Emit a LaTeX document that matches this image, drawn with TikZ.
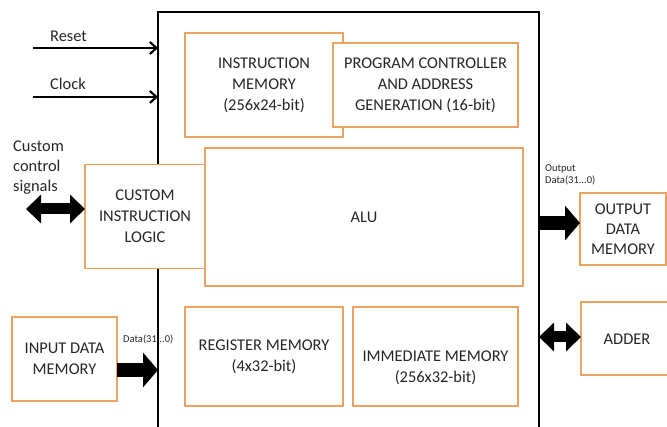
\documentclass[tikz,border=0pt]{standalone}
\usepackage{fontspec}
\setmainfont{Carlito}
\usetikzlibrary{arrows.meta}
\definecolor{boxorange}{RGB}{238,162,98}
\definecolor{txt}{RGB}{38,38,38}
\tikzset{
  unit/.style={draw=boxorange, line width=1.7pt, fill=white, inner sep=0pt, outer sep=0pt,
    align=center, text=txt, font=\fontsize{16.4}{21}\selectfont},
  sig/.style={text=txt, font=\fontsize{16.4}{20}\selectfont, align=left, inner sep=0pt},
  tiny/.style={text=txt, font=\fontsize{10.5}{12}\selectfont, align=left, inner sep=0pt},
  thin arrow/.style={draw=black, line width=2.2pt, -{Straight Barb[length=6.5pt,width=12pt]}},
  fat arrow/.style={draw=black, line width=14pt, -{Triangle[length=15pt,width=34pt]}},
  fat both/.style={draw=black, line width=11pt, {Triangle[length=15pt,width=28pt]}-{Triangle[length=15pt,width=28pt]}},
}
\begin{document}
\begin{tikzpicture}[x=1pt,y=-1pt]
\useasboundingbox (0,0) rectangle (667,427);
\begin{scope}
\clip (0,0) rectangle (667,427);

% processor core outline
\node[draw=black, line width=1.6pt, minimum width=381pt, minimum height=436pt,
      inner sep=0pt, outer sep=0pt] (core) at (348.5,230) {};

% units inside the core
\node[unit, minimum width=158pt, minimum height=104pt] (imem) at (264,85)
  {INSTRUCTION\\MEMORY\\(256x24-bit)};
\node[unit, minimum width=185pt, minimum height=84pt] (pc) at (425.5,85)
  {PROGRAM CONTROLLER\\AND ADDRESS\\GENERATION (16-bit)};
\node[unit, fill=none, minimum width=318pt, minimum height=138pt] (alu) at (364,217) {ALU};
\node[unit, minimum width=120pt, minimum height=104pt] (cil) at (145,216.5)
  {CUSTOM\\INSTRUCTION\\LOGIC};
\node[unit, minimum width=158pt, minimum height=99pt] (regm) at (264,356.5)
  {REGISTER MEMORY\\(4x32-bit)};
\node[unit, minimum width=165pt, minimum height=99pt] (immm) at (435.5,356.5) {};
\node[text=txt, align=center, inner sep=0pt, font=\fontsize{16.4}{21}\selectfont]
  (immt) at (435.5,368) {IMMEDIATE MEMORY\\(256x32-bit)};

% external units
\node[unit, minimum width=105pt, minimum height=84pt] (inm) at (64.5,359)
  {INPUT DATA\\MEMORY};
\node[unit, minimum width=86pt, minimum height=72pt, font=\fontsize{16.4}{20}\selectfont]
  (outm) at (623,229) {OUTPUT\\DATA\\MEMORY};
\node[unit, minimum width=118pt, minimum height=73pt] (adder) at (640,338.5) {};
\node[text=txt, inner sep=0pt, font=\fontsize{16.4}{21}\selectfont] (addt) at (627,339) {ADDER};

% control inputs
\coordinate (rst) at (33,48);
\coordinate (clk) at (33,97);
\draw[thin arrow] (rst) -- (core.west |- rst);
\draw[thin arrow] (clk) -- (core.west |- clk);
\node[sig, anchor=west] (rstl) at (50,36) {Reset};
\node[sig, anchor=west] (clkl) at (50,84) {Clock};

% custom control signals
\coordinate (cs) at (26,209);
\draw[fat both] (cs) -- (cil.west |- cs);
\node[sig, anchor=north west] (csl) at (13,141) {Custom\\control\\signals};

% data paths
\coordinate (din) at (0,370);
\draw[fat arrow] (inm.east |- din) -- (core.west |- din);
\node[tiny, anchor=west] (dinl) at (123,339) {Data(31...0)};

\coordinate (dout) at (0,223);
\draw[fat arrow] (core.east |- dout) -- (outm.west |- dout);
\node[tiny, anchor=north west] (doutl) at (545,164) {Output\\Data(31...0)};

\coordinate (add) at (0,337);
\draw[fat both] (core.east |- add) -- (adder.west |- add);
\end{scope}
\end{tikzpicture}
\end{document}
